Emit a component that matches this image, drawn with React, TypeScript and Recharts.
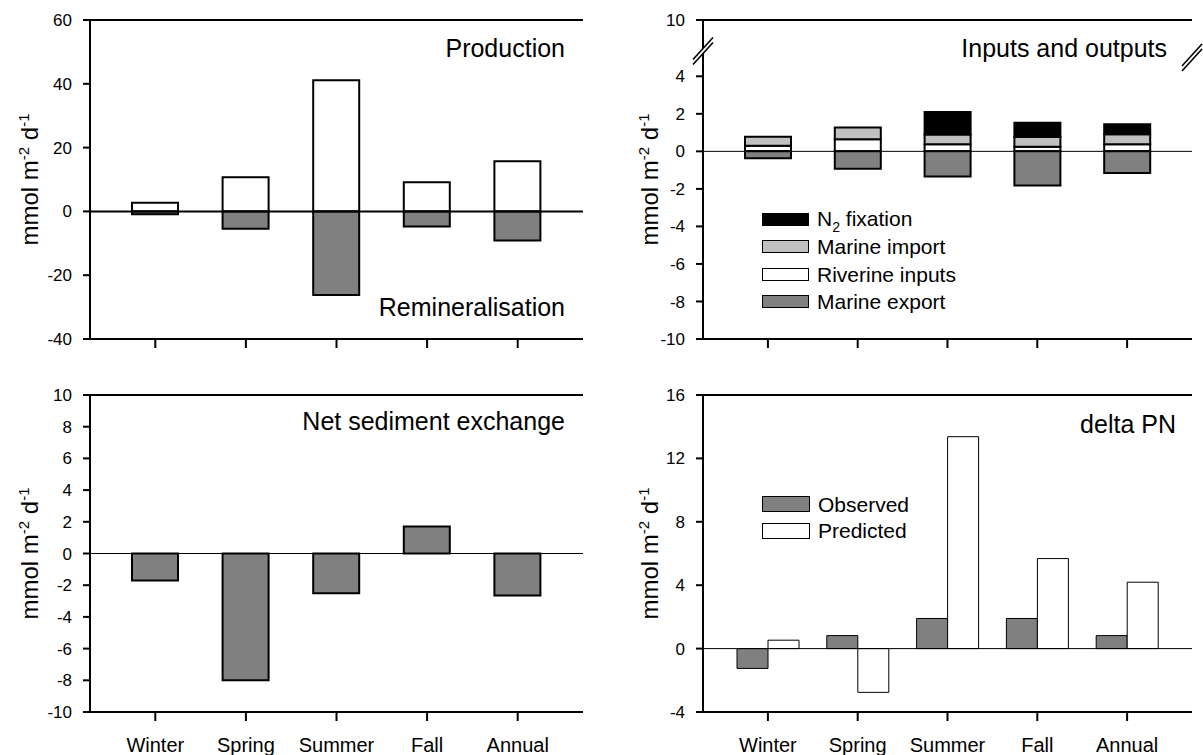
import React from 'react';
import { BarChart, Bar, XAxis, YAxis, ReferenceLine, Legend } from 'recharts';

// ---------- data ----------
const categories = ['Winter', 'Spring', 'Summer', 'Fall', 'Annual'];

// Panel 1: Production / Remineralisation
const production = [2.7, 10.7, 41.1, 9.1, 15.7];
const remineralisation = [-0.9, -5.4, -26.2, -4.7, -9.1];

// Panel 2: Inputs and outputs
const riverineInputs = [0.3, 0.65, 0.38, 0.25, 0.38];
const marineImport = [0.48, 0.62, 0.52, 0.52, 0.53];
const n2Fixation = [0, 0, 1.2, 0.76, 0.53];
const marineExport = [-0.37, -0.93, -1.34, -1.82, -1.16];

// Panel 3: Net sediment exchange
const sedimentExchange = [-1.7, -8.0, -2.5, 1.7, -2.65];

// Panel 4: delta PN
const observed = [-1.25, 0.82, 1.9, 1.9, 0.82];
const predicted = [0.53, -2.76, 13.37, 5.68, 4.19];

// ticks
const tlTicks = [-40, -20, 0, 20, 40, 60];
const trTicks = [-10, -8, -6, -4, -2, 0, 2, 4];
const trTopValue = 7; // broken axis: top of the plotted range
const trTopLabel = '10';
const trBreakLeft = 5.35;
const trBreakRight = 5.0;
const blTicks = [-10, -8, -6, -4, -2, 0, 2, 4, 6, 8, 10];
const brTicks = [-4, 0, 4, 8, 12, 16];

const trLegend = [
  { key: 'n2', label: 'N2 fixation', fill: '#000000' },
  { key: 'import', label: 'Marine import', fill: '#c0c0c0' },
  { key: 'riverine', label: 'Riverine inputs', fill: '#ffffff' },
  { key: 'export', label: 'Marine export', fill: '#808080' },
];
const brLegend = [
  { key: 'observed', label: 'Observed', fill: '#808080' },
  { key: 'predicted', label: 'Predicted', fill: '#ffffff' },
];

// ---------- built tables ----------
const tlData = categories.map((c, i) => ({ season: c, production: production[i], remineralisation: remineralisation[i] }));
const trData = categories.map((c, i) => ({
  season: c,
  riverine: riverineInputs[i],
  import: marineImport[i],
  n2: n2Fixation[i],
  export: marineExport[i],
}));
const blData = categories.map((c, i) => ({ season: c, sediment: sedimentExchange[i] }));
const brData = categories.map((c, i) => ({ season: c, observed: observed[i], predicted: predicted[i] }));

// ---------- styles ----------
const FONT = '"Liberation Sans", Arial, Helvetica, sans-serif';
const GRAY = '#808080';
const LIGHT = '#c0c0c0';
const AXIS = { stroke: '#000', strokeWidth: 2 };
const Y_TICK_SIZE = 7;
const Y_TICK_MARGIN = 11;
const X_TICK_SIZE = 9;
const X_TICK_MARGIN = 17;
const TR_PLOT_W = 603 - 11 - 103;

const YLabel = (offsetX: number) => (props: any) => {
  const vb = props.viewBox || { x: 0, y: 0, width: 0, height: 0 };
  const cx = (vb.x || 0) + offsetX;
  const cy = (vb.y || 0) + (vb.height || 0) / 2;
  return (
    <text
      x={cx}
      y={cy}
      transform={`rotate(-90, ${cx}, ${cy})`}
      textAnchor="middle"
      fontSize={24}
      fontFamily={FONT}
      fill="#000"
    >
      <tspan>mmol m</tspan>
      <tspan dy={-9} fontSize={15}>-2</tspan>
      <tspan dy={9}> d</tspan>
      <tspan dy={-9} fontSize={15}>-1</tspan>
    </text>
  );
};

const BreakMark = ({ x, y }: { x: number; y: number }) => {
  const d = 2.5;
  return (
    <g>
      <polygon
        points={`${x - 10},${y + 11 - d} ${x + 10},${y - 11 - d} ${x + 10},${y - 11 + d} ${x - 10},${y + 11 + d}`}
        fill="#fff"
      />
      <line x1={x - 10} y1={y + 11 - d} x2={x + 10} y2={y - 11 - d} stroke="#000" strokeWidth={1.6} />
      <line x1={x - 10} y1={y + 11 + d} x2={x + 10} y2={y - 11 + d} stroke="#000" strokeWidth={1.6} />
    </g>
  );
};

// Y tick: tick line + label
const YTick = (props: any) => {
  const { x, y, payload } = props;
  const ax = x + Y_TICK_SIZE + Y_TICK_MARGIN;
  return (
    <g>
      <line x1={ax - Y_TICK_SIZE} x2={ax} y1={y} y2={y} stroke="#000" strokeWidth={2} />
      <text x={x} y={y} dy="0.355em" textAnchor="end" fontSize={17} fontFamily={FONT} fill="#000">
        {String(payload.value)}
      </text>
    </g>
  );
};

// Broken-axis Y tick for the inputs/outputs panel
const BrokenYTick = (props: any) => {
  const { x, y, payload } = props;
  const v = payload.value;
  const ax = x + Y_TICK_SIZE + Y_TICK_MARGIN;
  if (v === trBreakLeft) return <BreakMark x={ax} y={y} />;
  if (v === trBreakRight) return <BreakMark x={ax + TR_PLOT_W} y={y} />;
  return (
    <g>
      <line x1={ax - Y_TICK_SIZE} x2={ax} y1={y} y2={y} stroke="#000" strokeWidth={2} />
      <text x={x} y={y} dy="0.355em" textAnchor="end" fontSize={17} fontFamily={FONT} fill="#000">
        {v === trTopValue ? trTopLabel : String(v)}
      </text>
    </g>
  );
};

// X tick: tick line (+ optional label)
const XTick = (showLabel: boolean) => (props: any) => {
  const { x, y, payload } = props;
  const ay = y - X_TICK_MARGIN - X_TICK_SIZE;
  return (
    <g>
      <line x1={x} x2={x} y1={ay} y2={ay + X_TICK_SIZE} stroke="#000" strokeWidth={2} />
      {showLabel ? (
        <text x={x} y={y} dy="0.71em" textAnchor="middle" fontSize={20} fontFamily={FONT} fill="#000">
          {payload.value}
        </text>
      ) : null}
    </g>
  );
};

const LegendBox = ({ items, rowH, swH, border }: { items: any[]; rowH: number; swH: number; border: number }) => (
  <div style={{ fontFamily: FONT, fontSize: 21, color: '#000' }}>
    {items.map((it) => (
      <div key={it.key} style={{ display: 'flex', alignItems: 'center', height: rowH, whiteSpace: 'nowrap' }}>
        <div
          style={{
            width: 48 - 2 * border,
            height: swH - 2 * border,
            background: it.fill,
            border: `${border}px solid #000`,
            marginRight: 8,
          }}
        />
        {it.key === 'n2' ? (
          <span style={{ lineHeight: '21px' }}>
            N<span style={{ fontSize: 14, position: 'relative', top: 6 }}>2</span> fixation
          </span>
        ) : (
          <span style={{ lineHeight: '21px' }}>{it.label}</span>
        )}
      </div>
    ))}
  </div>
);

const titleStyle: any = { fontFamily: FONT, fontSize: 25, fill: '#000' };

export default function App() {
  return (
    <div style={{ position: 'absolute', left: 0, top: 0, width: 1203, height: 755, background: '#fff', overflow: 'hidden' }}>
      {/* Top-left */}
      <div style={{ position: 'absolute', left: 0, top: 0 }}>
        <BarChart width={600} height={370} data={tlData} stackOffset="sign" margin={{ top: 20, right: 17, bottom: 1, left: 0 }}>
          <XAxis
            dataKey="season"
            padding={{ left: 20, right: 20 }}
            axisLine={AXIS}
            tickLine={false}
            tickSize={X_TICK_SIZE}
            tickMargin={X_TICK_MARGIN}
            tick={XTick(false)}
            interval={0}
            height={30}
          />
          <YAxis
            yAxisId="l"
            type="number"
            domain={[-40, 60]}
            ticks={tlTicks}
            interval={0}
            width={90}
            axisLine={AXIS}
            tickLine={false}
            tickSize={Y_TICK_SIZE}
            tickMargin={Y_TICK_MARGIN}
            tick={YTick}
            label={{ content: YLabel(38) }}
          />
          <YAxis yAxisId="r" orientation="right" type="number" domain={[-40, 60]} width={0} axisLine={AXIS} tickLine={false} tick={false} />
          <ReferenceLine yAxisId="l" y={60} stroke="#000" strokeWidth={2} />
          <Bar yAxisId="l" dataKey="production" name="Production" stackId="a" fill="#fff" stroke="#000" strokeWidth={2} barSize={46} isAnimationActive={false} />
          <Bar yAxisId="l" dataKey="remineralisation" name="Remineralisation" stackId="a" fill={GRAY} stroke="#000" strokeWidth={2} barSize={46} isAnimationActive={false} />
          <ReferenceLine yAxisId="l" y={0} stroke="#000" strokeWidth={2} />
        </BarChart>
      </div>

      {/* Top-right */}
      <div style={{ position: 'absolute', left: 600, top: 0 }}>
        <BarChart width={603} height={370} data={trData} stackOffset="sign" margin={{ top: 20, right: 11, bottom: 1, left: 0 }}>
          <XAxis
            dataKey="season"
            padding={{ left: 20, right: 20 }}
            axisLine={AXIS}
            tickLine={false}
            tickSize={X_TICK_SIZE}
            tickMargin={X_TICK_MARGIN}
            tick={XTick(false)}
            interval={0}
            height={30}
          />
          <YAxis
            yAxisId="r"
            orientation="right"
            type="number"
            domain={[-10, trTopValue]}
            width={0}
            axisLine={AXIS}
            tickLine={false}
            tick={false}
          />
          <ReferenceLine yAxisId="l" y={trTopValue} stroke="#000" strokeWidth={2} />
          <ReferenceLine yAxisId="l" y={0} stroke="#000" strokeWidth={1} />
          <Bar yAxisId="l" dataKey="riverine" name="Riverine inputs" stackId="a" fill="#fff" stroke="#000" strokeWidth={2} barSize={46} isAnimationActive={false} />
          <Bar yAxisId="l" dataKey="import" name="Marine import" stackId="a" fill={LIGHT} stroke="#000" strokeWidth={2} barSize={46} isAnimationActive={false} />
          <Bar yAxisId="l" dataKey="n2" name="N2 fixation" stackId="a" fill="#000" stroke="#000" strokeWidth={2} barSize={46} isAnimationActive={false} />
          <Bar yAxisId="l" dataKey="export" name="Marine export" stackId="a" fill={GRAY} stroke="#000" strokeWidth={2} barSize={46} isAnimationActive={false} />
          <YAxis
            yAxisId="l"
            type="number"
            domain={[-10, trTopValue]}
            ticks={[...trTicks, trBreakRight, trBreakLeft, trTopValue]}
            interval={0}
            width={103}
            axisLine={AXIS}
            tickLine={false}
            tickSize={Y_TICK_SIZE}
            tickMargin={Y_TICK_MARGIN}
            tick={BrokenYTick}
            label={{ content: YLabel(58) }}
          />
          <Legend
            layout="vertical"
            align="center"
            verticalAlign="middle"
            wrapperStyle={{ left: 162, top: 206, width: 240, height: 'auto' }}
            content={() => <LegendBox items={trLegend} rowH={27.3} swH={14} border={1.5} />}
          />
        </BarChart>
      </div>

      {/* Bottom-left */}
      <div style={{ position: 'absolute', left: 0, top: 370 }}>
        <BarChart width={600} height={385} data={blData} margin={{ top: 25, right: 17, bottom: 0, left: 0 }}>
          <XAxis
            dataKey="season"
            padding={{ left: 20, right: 20 }}
            axisLine={AXIS}
            tickLine={false}
            tickSize={X_TICK_SIZE}
            tickMargin={X_TICK_MARGIN}
            tick={XTick(true)}
            interval={0}
            height={43}
          />
          <YAxis
            yAxisId="l"
            type="number"
            domain={[-10, 10]}
            ticks={blTicks}
            interval={0}
            width={90}
            axisLine={AXIS}
            tickLine={false}
            tickSize={Y_TICK_SIZE}
            tickMargin={Y_TICK_MARGIN}
            tick={YTick}
            label={{ content: YLabel(38) }}
          />
          <YAxis yAxisId="r" orientation="right" type="number" domain={[-10, 10]} width={0} axisLine={AXIS} tickLine={false} tick={false} />
          <ReferenceLine yAxisId="l" y={10} stroke="#000" strokeWidth={2} />
          <ReferenceLine yAxisId="l" y={0} stroke="#000" strokeWidth={1} />
          <Bar yAxisId="l" dataKey="sediment" name="Net sediment exchange" fill={GRAY} stroke="#000" strokeWidth={2} barSize={46} isAnimationActive={false} />
        </BarChart>
      </div>

      {/* Bottom-right */}
      <div style={{ position: 'absolute', left: 600, top: 370 }}>
        <BarChart width={603} height={385} data={brData} barGap={0} margin={{ top: 25, right: 11, bottom: 0, left: 0 }}>
          <XAxis
            dataKey="season"
            padding={{ left: 20, right: 20 }}
            axisLine={AXIS}
            tickLine={false}
            tickSize={X_TICK_SIZE}
            tickMargin={X_TICK_MARGIN}
            tick={XTick(true)}
            interval={0}
            height={43}
          />
          <YAxis
            yAxisId="l"
            type="number"
            domain={[-4, 16]}
            ticks={brTicks}
            interval={0}
            width={103}
            axisLine={AXIS}
            tickLine={false}
            tickSize={Y_TICK_SIZE}
            tickMargin={Y_TICK_MARGIN}
            tick={YTick}
            label={{ content: YLabel(58) }}
          />
          <YAxis yAxisId="r" orientation="right" type="number" domain={[-4, 16]} width={0} axisLine={AXIS} tickLine={false} tick={false} />
          <ReferenceLine yAxisId="l" y={16} stroke="#000" strokeWidth={2} />
          <ReferenceLine yAxisId="l" y={0} stroke="#000" strokeWidth={1} />
          <Bar yAxisId="l" dataKey="observed" name="Observed" fill={GRAY} stroke="#000" strokeWidth={1} barSize={31} isAnimationActive={false} />
          <Bar yAxisId="l" dataKey="predicted" name="Predicted" fill="#fff" stroke="#000" strokeWidth={1} barSize={31} isAnimationActive={false} />
          <Legend
            layout="vertical"
            align="center"
            verticalAlign="middle"
            wrapperStyle={{ left: 162, top: 121, width: 240, height: 'auto' }}
            content={() => <LegendBox items={brLegend} rowH={26.5} swH={15.6} border={1} />}
          />
        </BarChart>
      </div>

      {/* Panel titles */}
      <svg width={1203} height={755} style={{ position: 'absolute', left: 0, top: 0, pointerEvents: 'none' }}>
        <text x={565} y={57} textAnchor="end" style={titleStyle}>Production</text>
        <text x={565} y={316} textAnchor="end" style={titleStyle}>Remineralisation</text>
        <text x={1167} y={57} textAnchor="end" style={titleStyle}>Inputs and outputs</text>
        <text x={565} y={430} textAnchor="end" style={titleStyle}>Net sediment exchange</text>
        <text x={1176} y={433} textAnchor="end" style={titleStyle}>delta PN</text>
      </svg>
    </div>
  );
}
